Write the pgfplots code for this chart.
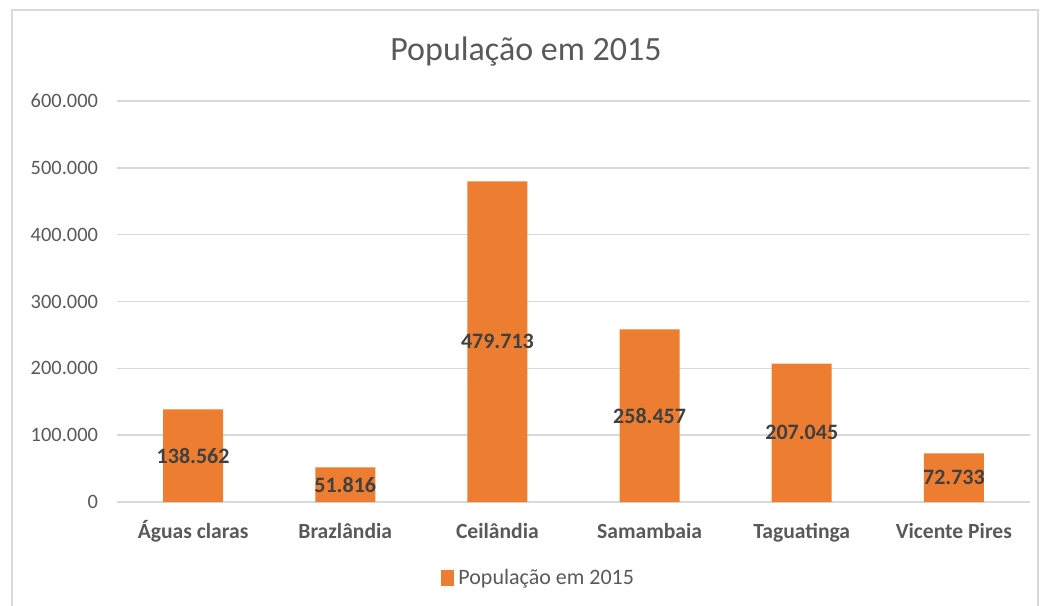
\documentclass[border=0pt]{standalone}
\usepackage{pgfplots}
\pgfplotsset{compat=1.18}
\usepackage{pgfplotstable}
\usepackage{fontspec}
\setmainfont{Carlito}

\definecolor{barorange}{HTML}{ED7D31}
\definecolor{txtgray}{HTML}{595959}
\definecolor{lblgray}{HTML}{404040}
\definecolor{gridgray}{HTML}{D9D9D9}

% populacao em 2015, label = valor formatado
\pgfplotstableread{
x y lbl
0 138562 138.562
1 51816 51.816
2 479713 479.713
3 258457 258.457
4 207045 207.045
5 72733 72.733
}\popdata

\begin{document}
\begin{tikzpicture}
\useasboundingbox (0,0) rectangle (521.5pt,302.5pt);
\draw[gridgray, line width=0.8pt] (6pt,-5pt) rectangle (519pt,297.5pt);
\node[text=txtgray, font=\fontsize{17}{20}\selectfont] at (263pt,276.5pt) {População em 2015};
\begin{axis}[
    at={(58.5pt,51.5pt)}, anchor=south west,
    scale only axis,
    width=456.5pt, height=200.5pt,
    xmin=-0.5, xmax=5.5,
    ymin=0, ymax=600000,
    xtick={0,...,5},
    xticklabels={Águas claras, Brazlândia, Ceilândia, Samambaia, Taguatinga, Vicente Pires},
    ytick={0,100000,200000,300000,400000,500000,600000},
    yticklabels={0,100.000,200.000,300.000,400.000,500.000,600.000},
    scaled y ticks=false,
    axis line style={draw=none},
    major tick length=0pt,
    ymajorgrids, grid style={gridgray, line width=0.8pt},
    yticklabel style={text=txtgray, font=\fontsize{10.2}{12}\selectfont, xshift=-6pt},
    xticklabel style={text=txtgray, font=\bfseries\fontsize{10.8}{13}\selectfont,
        anchor=base, yshift=-18pt},
    legend style={at={(0.463,-0.19)}, anchor=center, draw=none, fill=none,
        font=\fontsize{11}{13}\selectfont, text=txtgray},
    legend image code/.code={\fill[barorange] (0pt,-4pt) rectangle (6.5pt,4pt);},
]
\addplot[ybar, bar width=30pt, fill=barorange, draw=none] table[x=x, y=y] {\popdata};
\addlegendentry{População em 2015}
\addplot[draw=none, mark=none, forget plot, point meta=explicit symbolic,
    nodes near coords,
    nodes near coords style={anchor=center, text=lblgray, font=\bfseries\fontsize{11}{13}\selectfont}]
    table[x=x, y expr=\thisrow{y}/2, meta=lbl] {\popdata};
\end{axis}
\end{tikzpicture}
\end{document}
